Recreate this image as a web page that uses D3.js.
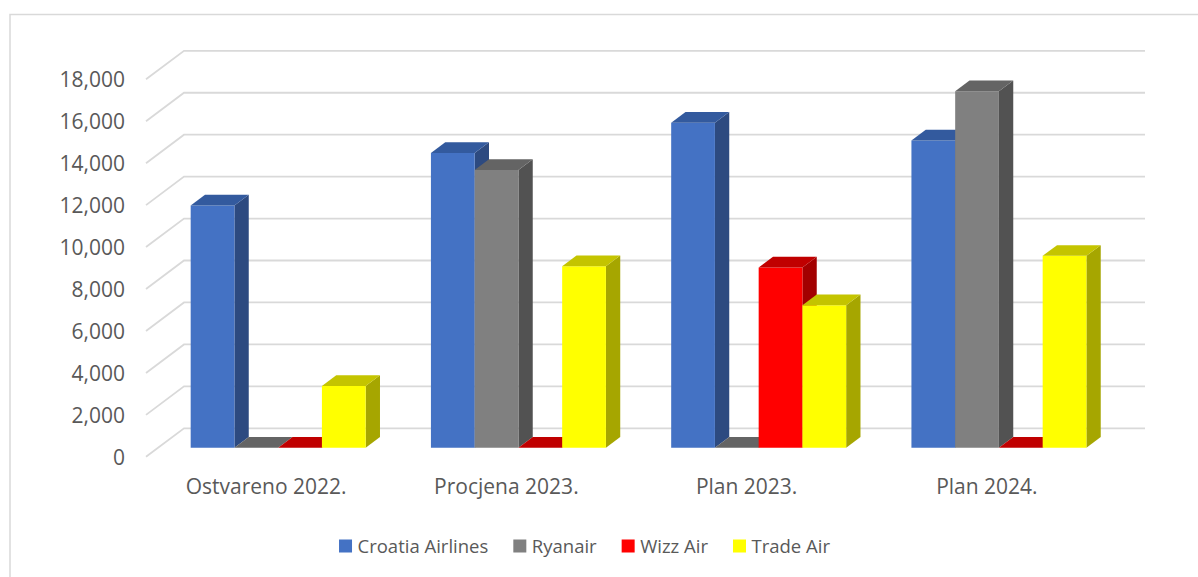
<!DOCTYPE html>
<html>
<head>
<meta charset="utf-8">
<script src="https://cdn.jsdelivr.net/npm/d3@7"></script>
<style>
  body { margin: 0; background: #fff; }
  text { font-family: "Open Sans", sans-serif; fill: #595959; }
</style>
</head>
<body>
<div id="chart"></div>
<script>
"use strict";
(function() {

const WIDTH = 1198
const HEIGHT = 577

// data
const categories = ["Ostvareno 2022.", "Procjena 2023.", "Plan 2023.", "Plan 2024."]
const series = ["Croatia Airlines", "Ryanair", "Wizz Air", "Trade Air"]
const croatiaAirlines = [11550, 14050, 15500, 14650]
const ryanair = [0, 13250, 0, 17000]
const wizzAir = [0, 0, 8600, 0]
const tradeAir = [2950, 8650, 6800, 9150]
const yTicks = [0, 2000, 4000, 6000, 8000, 10000, 12000, 14000, 16000, 18000]

const values = [croatiaAirlines, ryanair, wizzAir, tradeAir]

// face colours: front, top, side
const FRONT = ["#4472c4", "#808080", "#ff0000", "#ffff00"]
const TOP = ["#335a9e", "#646464", "#c00000", "#c4c400"]
const SIDE = ["#2d4a80", "#525252", "#a30000", "#a6a600"]

// 3d floor geometry
const FLOOR_LEFT = 146
const FLOOR_W = 961
const FRONT_Y = 456.8
const DEPTH_DX = 38
const DEPTH_DY = 28.5
const BAR_Z0 = 0.317
const BAR_Z1 = 0.694

const GRID = "#d9d9d9"

var svg = d3.select("#chart").append("svg")
    .attr("width", WIDTH)
    .attr("height", HEIGHT)

let x = d3.scaleBand().domain(categories).range([0, FLOOR_W])
let xs = d3.scaleBand().domain(series).range([0, x.bandwidth()]).paddingOuter(0.746)
let h = d3.scaleLinear().domain([0, 18000]).range([0, 377.5])

function proj(px, pz, v) {
    return [FLOOR_LEFT + px + DEPTH_DX * pz, FRONT_Y - DEPTH_DY * pz - h(v)]
}

// chart frame
svg.append("path")
    .attr("d", `M10,${HEIGHT} V14.5 H${WIDTH}`)
    .attr("fill", "none")
    .attr("stroke", GRID)
    .attr("stroke-width", 1.5)

// gridlines: back wall + side diagonal
let grid = svg.append("g")
    .attr("stroke", GRID)
    .attr("stroke-width", 1.8)
    .attr("fill", "none")

yTicks.forEach(t => {
    let a = proj(0, 0, t), b = proj(0, 1, t), c = proj(FLOOR_W, 1, t)
    grid.append("path").attr("d", d3.line()([a, b, c]))
})

// y axis labels on the front plane
let yFront = d3.scaleLinear().domain([0, 18000]).range([FRONT_Y, FRONT_Y - h(18000)])
let yAxis = svg.append("g")
    .attr("transform", `translate(${FLOOR_LEFT},0)`)
    .call(d3.axisLeft(yFront).tickValues(yTicks).tickSize(0).tickPadding(21).tickFormat(d3.format(",")))
yAxis.select(".domain").remove()
yAxis.attr("font-family", null).attr("font-size", null)
yAxis.selectAll("text")
    .attr("font-size", "21px")
    .attr("dy", "0.36em")
    .style("fill", "#595959")

// category labels
let xFront = d3.scaleBand().domain(categories).range([FLOOR_LEFT, FLOOR_LEFT + FLOOR_W])
let xAxis = svg.append("g")
    .attr("transform", `translate(0,${FRONT_Y})`)
    .call(d3.axisBottom(xFront).tickSize(0).tickPadding(22.3))
xAxis.select(".domain").remove()
xAxis.attr("font-family", null).attr("font-size", null)
xAxis.selectAll("text")
    .attr("font-size", "21px")
    .style("fill", "#595959")

// bars, drawn left to right so neighbours hide side faces
let bars = svg.append("g")
categories.forEach((cat, ci) => {
    series.forEach((s, si) => {
        let v = values[si][ci]
        let x0 = x(cat) + xs(s)
        let x1 = x0 + xs.bandwidth()
        let side = [proj(x1, BAR_Z0, 0), proj(x1, BAR_Z1, 0), proj(x1, BAR_Z1, v), proj(x1, BAR_Z0, v)]
        let top = [proj(x0, BAR_Z0, v), proj(x1, BAR_Z0, v), proj(x1, BAR_Z1, v), proj(x0, BAR_Z1, v)]
        let front = [proj(x0, BAR_Z0, 0), proj(x1, BAR_Z0, 0), proj(x1, BAR_Z0, v), proj(x0, BAR_Z0, v)]
        if (v > 0) {
            bars.append("polygon").attr("points", side.join(" ")).attr("fill", SIDE[si])
            bars.append("polygon").attr("points", front.join(" ")).attr("fill", FRONT[si])
        }
        bars.append("polygon").attr("points", top.join(" ")).attr("fill", TOP[si])
    })
})

// legend
let legend = svg.append("g")
let items = legend.selectAll("g").data(series).enter().append("g")
items.append("rect")
    .attr("width", 13).attr("height", 13)
    .attr("y", -6.5)
    .attr("fill", (d, i) => FRONT[i])
items.append("text")
    .text(d => d)
    .attr("x", 18.5)
    .attr("dy", "0.36em")
    .attr("font-size", "18.5px")

let pos = 0
items.each(function() {
    let w = 18.5 + this.querySelector("text").getComputedTextLength()
    d3.select(this).attr("transform", `translate(${pos},0)`)
    pos += w + 25
})
let total = pos - 25
legend.attr("transform", `translate(${584.5 - total / 2},546)`)

})();
</script>
</body>
</html>
